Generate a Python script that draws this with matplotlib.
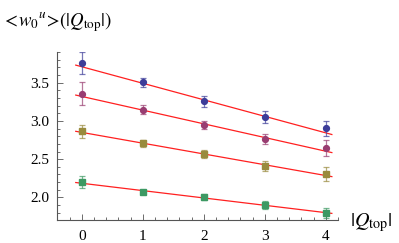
import matplotlib
matplotlib.use("Agg")
import matplotlib.pyplot as plt
import numpy as np
from matplotlib.ticker import MultipleLocator, FixedLocator

plt.rcParams['mathtext.fontset'] = 'stix'
plt.rcParams['font.family'] = ['Liberation Serif', 'DejaVu Serif']

x = [0, 1, 2, 3, 4]
blue_y = [3.757, 3.505, 3.255, 3.047, 2.905]
blue_e = [0.15, 0.06, 0.07, 0.08, 0.10]
purple_y = [3.357, 3.148, 2.948, 2.766, 2.645]
purple_e = [0.15, 0.06, 0.05, 0.065, 0.10]
olive_y = [2.864, 2.705, 2.565, 2.41, 2.31]
olive_e = [0.087, 0.045, 0.05, 0.065, 0.09]
green_y = [2.20, 2.07, 2.00, 1.90, 1.80]
green_e = [0.078, 0.03, 0.04, 0.05, 0.065]

# fit lines (intercept, slope)
fit_x = [-0.1, 4.1]
blue_fit = (3.708, -0.216)
purple_fit = (3.320, -0.179)
olive_fit = (2.850, -0.141)
green_fit = (2.185, -0.096)

colors = ['#3d3d99', '#993d71', '#998b3d', '#3d9963']
markers = ['o', 'o', 's', 's']

fig = plt.figure(figsize=(3.99, 2.43), dpi=100)
ax = fig.add_axes([0.144, 0.0947, 0.703, 0.691])

series = [(blue_y, blue_e, blue_fit), (purple_y, purple_e, purple_fit),
          (olive_y, olive_e, olive_fit), (green_y, green_e, green_fit)]
for (yv, ev, fit), c, m in zip(series, colors, markers):
    fx = np.array(fit_x)
    ax.plot(fx, fit[0] + fit[1] * fx, color='#ff2020', lw=0.9, zorder=2)
    ax.errorbar(x, yv, yerr=ev, fmt='none', ecolor=c, elinewidth=0.9,
                capsize=2.5, capthick=0.9, alpha=0.7, zorder=3)
    ax.plot(x, yv, linestyle='none', marker=m, color=c, markersize=4.2, zorder=4)

ax.set_xlim(-0.40, 4.2)
ax.set_ylim(1.705, 3.9)
for s in ['top', 'right']:
    ax.spines[s].set_visible(False)
for s in ['left', 'bottom']:
    ax.spines[s].set_color('#555555')
    ax.spines[s].set_linewidth(0.8)

ax.xaxis.set_major_locator(FixedLocator([0, 1, 2, 3, 4]))
ax.xaxis.set_minor_locator(MultipleLocator(0.2))
ax.yaxis.set_major_locator(FixedLocator([2.0, 2.5, 3.0, 3.5]))
ax.yaxis.set_minor_locator(MultipleLocator(0.1))
ax.set_yticklabels(['2.0', '2.5', '3.0', '3.5'])
ax.tick_params(which='both', direction='in', color='#555555', width=0.6,
               labelsize=11)
ax.tick_params(axis='x', pad=7)
ax.tick_params(axis='y', pad=6)
ax.tick_params(which='major', length=4)
ax.tick_params(which='minor', length=2)

fig.text(0.005, 0.905, r'$<\!w_0{}^u\!>\!(|Q_{\rm top}|)$', fontsize=13.5,
         ha='left', va='center')
fig.text(0.878, 0.085, r'$|Q_{\rm top}|$', fontsize=14.5, ha='left', va='center')

fig.savefig('out.png', dpi=100)
